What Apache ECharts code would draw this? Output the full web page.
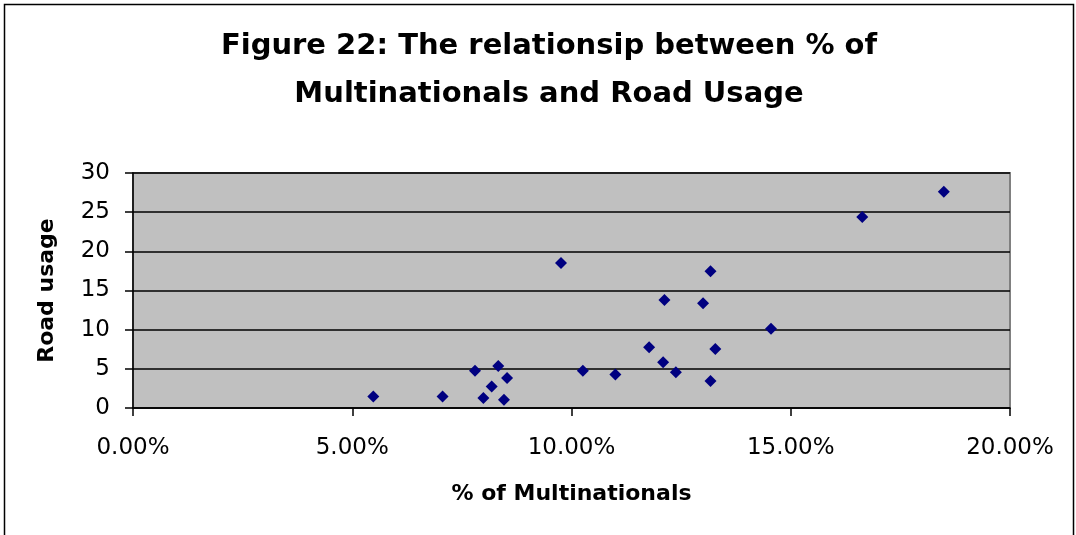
<!DOCTYPE html>
<html>
<head>
<meta charset="utf-8">
<script src="https://cdn.jsdelivr.net/npm/echarts@6/dist/echarts.min.js"></script>
<style>
html,body{margin:0;padding:0;background:#fff;}
#chart{width:1076px;height:535px;}
</style>
</head>
<body>
<div id="chart"></div>
<script>
// % of multinationals (x, in percent) and road usage (y)
const multinationalsPct = [5.48, 7.06, 7.80, 8.33, 8.53, 8.18, 7.99, 8.46, 9.76, 10.26, 11.00, 11.77, 12.09, 12.38, 12.12, 13.00, 13.17, 13.28, 13.17, 14.55, 16.63, 18.49];
const roadUsage        = [1.48, 1.48, 4.76, 5.36, 3.83, 2.76, 1.28, 1.06, 18.5, 4.76, 4.29, 7.74, 5.83, 4.55, 13.79, 13.36, 17.45, 7.53, 3.45, 10.13, 24.39, 27.62];
const titleLines = ['Figure 22: The relationsip between % of', 'Multinationals and Road Usage'];
const xAxisName = '% of Multinationals';
const yAxisName = 'Road usage';

const points = multinationalsPct.map((x, i) => [x, roadUsage[i]]);
const FONT = '"DejaVu Sans", "Liberation Sans", Arial, sans-serif';

const chart = echarts.init(document.getElementById('chart'), null, {renderer: 'canvas'});
chart.setOption({
  backgroundColor: '#ffffff',
  animation: false,
  title: {
    text: titleLines.join('\n'),
    left: 544,
    top: 17,
    textAlign: 'center',
    textStyle: {fontFamily: FONT, fontSize: 29, fontWeight: 'bold', color: '#000', lineHeight: 48}
  },
  graphic: [{
    type: 'rect',
    shape: {x: 4.5, y: 4.5, width: 1069, height: 540},
    style: {fill: 'none', stroke: '#000', lineWidth: 1.5},
    silent: true
  }],
  grid: {left: 133, top: 173, width: 877, height: 235, show: true, backgroundColor: '#C0C0C0', borderColor: '#808080', borderWidth: 2},
  xAxis: {
    type: 'value', min: 0, max: 20, interval: 5,
    name: xAxisName, nameLocation: 'middle', nameGap: 75,
    nameTextStyle: {fontFamily: FONT, fontSize: 22, fontWeight: 'bold', color: '#000'},
    axisLine: {show: true, onZero: false, lineStyle: {color: '#000', width: 1.5}},
    axisTick: {show: true, length: 8, lineStyle: {color: '#000', width: 1.5}},
    axisLabel: {fontFamily: FONT, fontSize: 23, color: '#000', margin: 29, formatter: v => v.toFixed(2) + '%'},
    splitLine: {show: false}
  },
  yAxis: {
    type: 'value', min: 0, max: 30, interval: 5,
    name: yAxisName, nameLocation: 'middle', nameGap: 75, nameRotate: 90,
    nameTextStyle: {fontFamily: FONT, fontSize: 22, fontWeight: 'bold', color: '#000'},
    axisLine: {show: true, lineStyle: {color: '#000', width: 1.5}},
    axisTick: {show: true, length: 8, lineStyle: {color: '#000', width: 1.5}},
    axisLabel: {fontFamily: FONT, fontSize: 23, color: '#000', margin: 23},
    splitLine: {show: true, lineStyle: {color: '#000', width: 1.5}}
  },
  series: [{
    type: 'scatter',
    data: points,
    symbol: 'diamond',
    symbolSize: 12,
    itemStyle: {color: '#000080', opacity: 1}
  }]
});
</script>
</body>
</html>
